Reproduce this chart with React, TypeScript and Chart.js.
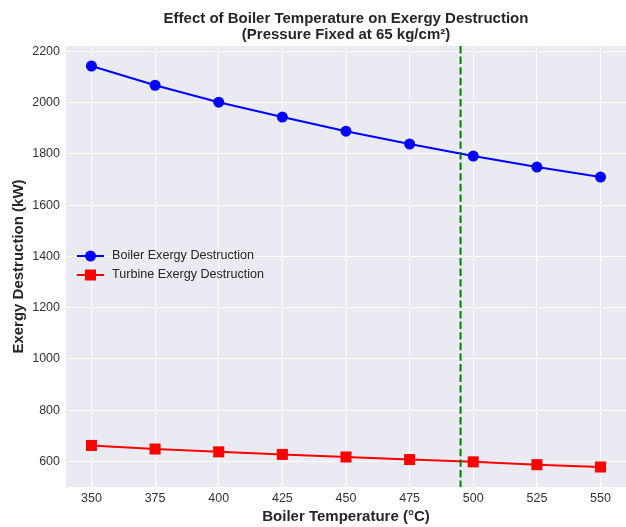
import { useEffect, useRef } from 'react';
import { Chart, registerables } from 'chart.js';

Chart.register(...registerables);

const temperatures = [350, 375, 400, 425, 450, 475, 500, 525, 550];
const boilerExergy = [2142, 2067, 2001, 1943, 1888, 1838, 1791, 1748, 1709];
const turbineExergy = [663, 649, 638, 628, 618, 608, 599, 588, 579];
const xTicks = [350, 375, 400, 425, 450, 475, 500, 525, 550];
const yTicks = [600, 800, 1000, 1200, 1400, 1600, 1800, 2000, 2200];
const markerTemp = 495;
const seriesLabels = ['Boiler Exergy Destruction', 'Turbine Exergy Destruction'];

const FONT = "'Liberation Sans', Arial, sans-serif";
const TEXT = '#262626';

const bgPlugin = {
  id: 'bg',
  beforeDraw(chart: any) {
    const { ctx, chartArea: a } = chart;
    ctx.save();
    ctx.fillStyle = '#EAEAF2';
    ctx.fillRect(a.left, a.top, a.right - a.left, a.bottom - a.top);
    ctx.restore();
  },
};

const vlinePlugin = {
  id: 'vline',
  afterDatasetsDraw(chart: any) {
    const { ctx, chartArea: a, scales } = chart;
    const x = scales.x.getPixelForValue(markerTemp);
    ctx.save();
    ctx.strokeStyle = '#008000';
    ctx.lineWidth = 2;
    ctx.setLineDash([7.4, 3.2]);
    ctx.beginPath();
    ctx.moveTo(x, a.top);
    ctx.lineTo(x, a.bottom);
    ctx.stroke();
    ctx.restore();
  },
};

const legendPlugin = {
  id: 'customLegend',
  afterDraw(chart: any) {
    const { ctx } = chart;
    const items = [
      { label: seriesLabels[0], color: '#0000FF', shape: 'circle', y: 256 },
      { label: seriesLabels[1], color: '#FF0000', shape: 'rect', y: 275 },
    ];
    ctx.save();
    for (const it of items) {
      ctx.strokeStyle = it.color;
      ctx.fillStyle = it.color;
      ctx.lineWidth = 2;
      ctx.beginPath();
      ctx.moveTo(77, it.y);
      ctx.lineTo(104, it.y);
      ctx.stroke();
      ctx.beginPath();
      if (it.shape === 'circle') {
        ctx.arc(90.5, it.y, 5.5, 0, Math.PI * 2);
      } else {
        ctx.rect(85, it.y - 5.5, 11, 11);
      }
      ctx.fill();
      ctx.fillStyle = TEXT;
      ctx.font = `12.6px ${FONT}`;
      ctx.textBaseline = 'middle';
      ctx.textAlign = 'left';
      ctx.fillText(it.label, 112, it.y);
    }
    ctx.restore();
  },
};

export default function App() {
  const ref = useRef<HTMLCanvasElement>(null);
  useEffect(() => {
    document.body.style.margin = '0';
    const chart = new Chart(ref.current!, {
      type: 'line',
      data: {
        datasets: [
          {
            label: seriesLabels[0],
            data: temperatures.map((t, i) => ({ x: t, y: boilerExergy[i] })),
            borderColor: '#0000FF',
            backgroundColor: '#0000FF',
            borderWidth: 2,
            pointRadius: 5.5,
            pointHoverRadius: 5.5,
            pointStyle: 'circle',
            pointBorderWidth: 0,
          },
          {
            label: seriesLabels[1],
            data: temperatures.map((t, i) => ({ x: t, y: turbineExergy[i] })),
            borderColor: '#FF0000',
            backgroundColor: '#FF0000',
            borderWidth: 2,
            pointRadius: 7.8,
            pointHoverRadius: 7.8,
            pointStyle: 'rect',
            pointBorderWidth: 0,
          },
        ],
      },
      plugins: [bgPlugin, vlinePlugin, legendPlugin],
      options: {
        animation: false,
        responsive: false,
        layout: { autoPadding: false, padding: { left: 0, right: 0, top: 0, bottom: 0 } },
        plugins: {
          legend: { display: false },
          tooltip: { enabled: false },
          title: {
            display: true,
            fullSize: false,
            text: ['Effect of Boiler Temperature on Exergy Destruction', '(Pressure Fixed at 65 kg/cm²)'],
            color: TEXT,
            font: { family: FONT, size: 15, weight: 'bold', lineHeight: 16 / 15 },
            padding: { top: 11, bottom: 3 },
          },
        },
        scales: {
          x: {
            type: 'linear',
            min: 340,
            max: 560,
            afterBuildTicks: (s: any) => { s.ticks = xTicks.map((v) => ({ value: v })); },
            afterFit: (s: any) => { s.height = 40; s.paddingLeft = 0; s.paddingRight = 0; },
            grid: { color: '#FFFFFF', lineWidth: 1, drawTicks: false },
            border: { display: false },
            ticks: { color: '#333333', font: { family: FONT, size: 12.5 }, padding: 4, maxRotation: 0, autoSkip: false, callback: (v: any) => String(v) },
            title: { display: true, text: 'Boiler Temperature (°C)', color: TEXT, font: { family: FONT, size: 15, weight: 'bold' }, padding: { top: 0, bottom: 1 } },
          },
          y: {
            type: 'linear',
            min: 501,
            max: 2220,
            afterBuildTicks: (s: any) => { s.ticks = yTicks.map((v) => ({ value: v })); },
            afterFit: (s: any) => { s.width = 66; s.paddingTop = 0; s.paddingBottom = 0; },
            grid: { color: '#FFFFFF', lineWidth: 1, drawTicks: false },
            border: { display: false },
            ticks: { color: '#333333', font: { family: FONT, size: 12.5 }, padding: 6, autoSkip: false, callback: (v: any) => String(v) },
            title: { display: true, text: 'Exergy Destruction (kW)', color: TEXT, font: { family: FONT, size: 15, weight: 'bold' }, padding: { top: 9.5, bottom: 0 } },
          },
        },
      },
    });
    return () => chart.destroy();
  }, []);
  return <canvas ref={ref} width={626} height={527} style={{ display: 'block' }} />;
}
